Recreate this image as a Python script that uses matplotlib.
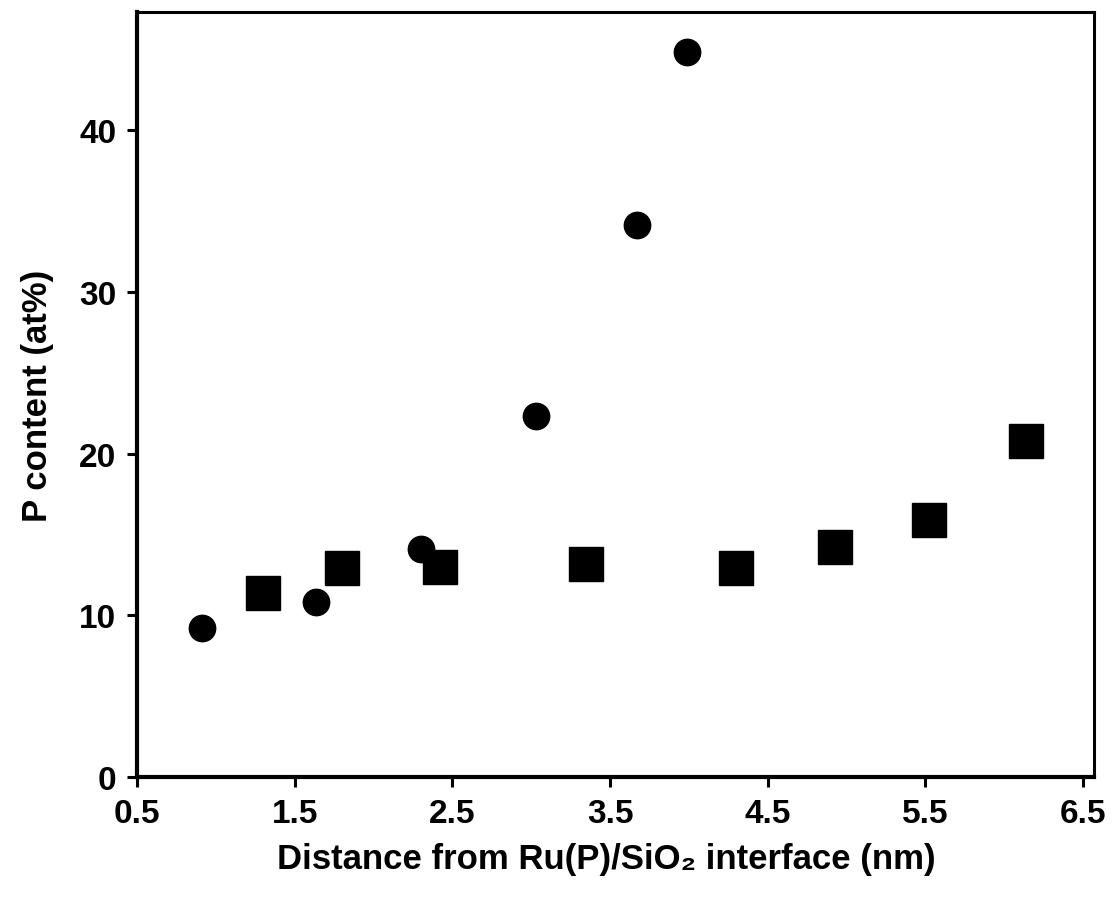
import matplotlib.pyplot as plt

plt.rcParams["font.family"] = ["Liberation Sans", "DejaVu Sans"]
plt.rcParams["font.weight"] = "bold"

# Circles (series 1)
circle_x = [0.91, 1.635, 2.30, 3.03, 3.67, 3.99]
circle_y = [9.2, 10.8, 14.1, 22.3, 34.1, 44.8]

# Squares (series 2)
square_x = [1.30, 1.80, 2.42, 3.35, 4.30, 4.93, 5.52, 6.14]
square_y = [11.4, 12.9, 13.0, 13.2, 12.9, 14.2, 15.9, 20.8]

x_ticks = [0.5, 1.5, 2.5, 3.5, 4.5, 5.5, 6.5]
y_ticks = [0, 10, 20, 30, 40]

fig = plt.figure(figsize=(11.13, 9.04), dpi=100)
ax = fig.add_axes([0.1231, 0.1394, 0.8599, 0.8462])

ax.plot(circle_x, circle_y, "o", color="black", markersize=19, linestyle="none")
ax.plot(square_x, square_y, "s", color="black", markersize=24, linestyle="none")

ax.set_xlim(0.5, 6.57)
ax.set_ylim(0, 47.3)
ax.set_xticks(x_ticks)
ax.set_xticklabels([f"{t:.1f}" for t in x_ticks])
ax.set_yticks(y_ticks)

ax.tick_params(axis="both", direction="out", length=7, width=2.2, labelsize=24, pad=8)
ax.spines["left"].set_linewidth(3)
ax.spines["bottom"].set_linewidth(3)
ax.spines["top"].set_linewidth(2.2)
ax.spines["right"].set_linewidth(2.2)

ax.set_xlabel("Distance from Ru(P)/SiO\u2082 interface (nm)", fontsize=25, fontweight="bold")
ax.xaxis.set_label_coords(0.49, -0.085)
ax.set_ylabel("P content (at%)", fontsize=25, fontweight="bold", labelpad=18)

fig.savefig("out.png", dpi=100)
